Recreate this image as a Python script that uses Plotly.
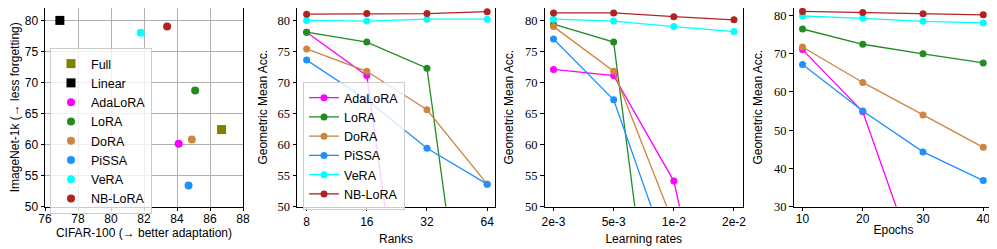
import plotly.graph_objects as go

W, H = 997, 249
OX, OY = 8, 8          # page body margin offset
FW, FH = W - OX, H - OY

methods = ["AdaLoRA", "LoRA", "DoRA", "PiSSA", "VeRA", "NB-LoRA"]
colors = {"Full": "#808000", "Linear": "#000000", "AdaLoRA": "#ff00ff", "LoRA": "#228b22",
          "DoRA": "#cd853f", "PiSSA": "#1e90ff", "VeRA": "#00ffff", "NB-LoRA": "#b22222"}

# Panel 1: CIFAR-100 vs ImageNet-1k
scatter_names = ["Full", "Linear", "AdaLoRA", "LoRA", "DoRA", "PiSSA", "VeRA", "NB-LoRA"]
cifar = [86.7, 76.9, 84.1, 85.1, 84.9, 84.7, 81.8, 83.4]
imagenet = [62.4, 80.0, 60.1, 68.7, 60.8, 53.4, 78.0, 79.0]

# Panel 2: ranks
ranks = ["8", "16", "32", "64"]
rank_vals = {
    "AdaLoRA": [78.1, 71.1, 1.0, 1.0],
    "LoRA": [78.1, 76.5, 72.3, 1.0],
    "DoRA": [75.4, 71.8, 65.6, 53.6],
    "PiSSA": [73.6, 67.2, 59.4, 53.6],
    "VeRA": [80.0, 79.9, 80.2, 80.2],
    "NB-LoRA": [81.0, 81.1, 81.1, 81.4],
}

# Panel 3: learning rates
lrs = ["2e-3", "5e-3", "1e-2", "2e-2"]
lr_vals = {
    "AdaLoRA": [72.1, 71.1, 54.1, 10.6],
    "LoRA": [79.4, 76.5, 1.0, 1.0],
    "DoRA": [79.0, 71.8, 47.1, 1.0],
    "PiSSA": [77.0, 67.2, 39.6, 1.0],
    "VeRA": [80.2, 79.9, 79.0, 78.2],
    "NB-LoRA": [81.2, 81.2, 80.6, 80.1],
}

# Panel 4: epochs
epochs = [10, 20, 30, 40]
ep_vals = {
    "AdaLoRA": [71.1, 54.8, 10.0, 1.0],
    "LoRA": [76.5, 72.5, 70.0, 67.6],
    "DoRA": [71.8, 62.5, 54.0, 45.5],
    "PiSSA": [67.2, 55.0, 44.3, 36.8],
    "VeRA": [79.9, 79.3, 78.5, 78.1],
    "NB-LoRA": [81.1, 80.8, 80.5, 80.2],
}

SANS = "Liberation Sans"
SERIF = "Liberation Serif"

fig = go.Figure()

# Panel 1
for n, cx, iy in zip(scatter_names, cifar, imagenet):
    fig.add_trace(go.Scatter(
        x=[cx], y=[iy], mode="markers", name=n, legend="legend",
        marker=dict(color=colors[n], size=9 if n in ("Full", "Linear") else 8,
                    symbol="square" if n in ("Full", "Linear") else "circle", line=dict(width=0)),
        xaxis="x", yaxis="y", cliponaxis=False))

def add_lines(xs, vals, ax, show):
    for m in methods:
        fig.add_trace(go.Scatter(
            x=xs, y=vals[m], mode="lines+markers", name=m,
            line=dict(color=colors[m], width=1.3),
            marker=dict(color=colors[m], size=7),
            xaxis="x" + ax, yaxis="y" + ax, showlegend=show, legend="legend2"))

add_lines(ranks, rank_vals, "2", True)
add_lines(lrs, lr_vals, "3", False)
add_lines(epochs, ep_vals, "4", False)

def px_x(p):
    return (p - OX) / FW

def px_y(p):
    return 1 - (p - OY) / FH

top, bot = 4, 206.5
def dx(a, b):
    return [px_x(a), px_x(b)]
ydom = [px_y(bot), min(1.0, px_y(top))]

axis_common = dict(showline=True, linecolor="black", linewidth=1, mirror=True,
                   ticks="outside", ticklen=3.5, tickcolor="black", zeroline=False,
                   automargin=False)
title_font = dict(family=SANS, size=12)
tick_sans = dict(family=SANS, size=12)
tick_serif = dict(family=SERIF, size=12.5)

fig.update_layout(
    template="none",
    width=FW, height=FH, margin=dict(l=0, r=0, t=0, b=0),
    plot_bgcolor="white", paper_bgcolor="white",
    font=dict(family=SANS, size=12, color="black"),
    xaxis=dict(domain=dx(45, 243), range=[76, 88], dtick=2, tick0=76, showgrid=True,
               gridcolor="#b0b0b0", gridwidth=1, anchor="y", ticklabelstandoff=-2,
               title=dict(text="CIFAR-100 (→ better adaptation)", standoff=0, font=title_font),
               tickfont=tick_sans, **axis_common),
    yaxis=dict(domain=ydom, range=[50, 82], dtick=5, tick0=50, showgrid=True,
               gridcolor="#b0b0b0", gridwidth=1, anchor="x",
               title=dict(text="ImageNet-1k (→ less forgetting)", standoff=4, font=title_font),
               tickfont=tick_sans, **axis_common),
    xaxis2=dict(domain=dx(297, 495), type="category", range=[-0.16, 3.13], anchor="y2",
                showgrid=False, title=dict(text="Ranks", standoff=6, font=title_font),
                ticklabelstandoff=1, tickfont=tick_sans, **axis_common),
    yaxis2=dict(domain=ydom, range=[50, 82], dtick=5, tick0=50, anchor="x2", showgrid=False,
                title=dict(text="Geometric Mean Acc.", standoff=7, font=title_font),
                tickfont=tick_serif, **axis_common),
    xaxis3=dict(domain=dx(544.5, 743), type="category", range=[-0.15, 3.15], anchor="y3",
                showgrid=False, title=dict(text="Learning rates", standoff=6, font=title_font),
                ticklabelstandoff=1, tickfont=tick_sans, **axis_common),
    yaxis3=dict(domain=ydom, range=[50, 82], dtick=5, tick0=50, anchor="x3", showgrid=False,
                title=dict(text="Geometric Mean Acc.", standoff=8, font=title_font),
                tickfont=tick_serif, **axis_common),
    xaxis4=dict(domain=dx(793.5, 993.5), range=[8.5, 41.7], tickvals=epochs, anchor="y4",
                showgrid=False, title=dict(text="Epochs", standoff=0, font=title_font),
                ticklabelstandoff=-2, tickfont=tick_sans, **axis_common),
    yaxis4=dict(domain=ydom, range=[30, 82], dtick=10, tick0=30, anchor="x4", showgrid=False,
                title=dict(text="Geometric Mean Acc.", standoff=8, font=title_font),
                tickfont=tick_serif, **axis_common),
    legend=dict(x=px_x(50), y=px_y(48), xanchor="left", yanchor="top",
                bgcolor="rgba(255,255,255,0.8)", bordercolor="#cccccc", borderwidth=1,
                font=dict(family=SANS, size=12.5), tracegroupgap=0, itemwidth=30),
    legend2=dict(x=px_x(303), y=px_y(82), xanchor="left", yanchor="top",
                 bgcolor="rgba(255,255,255,0.8)", bordercolor="#cccccc", borderwidth=1,
                 font=dict(family=SANS, size=12.5), tracegroupgap=0, itemwidth=30),
)

fig.write_html("out.html")
